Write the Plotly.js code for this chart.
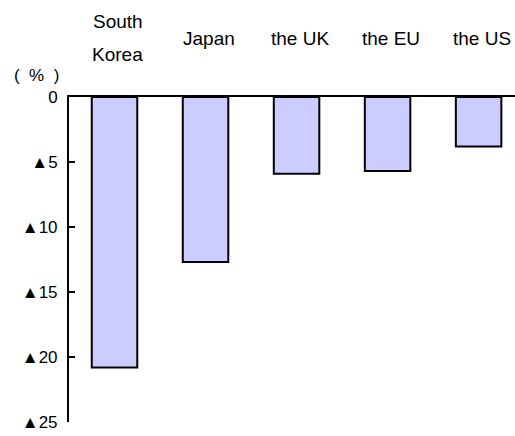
<!DOCTYPE html>
<html><head><meta charset="utf-8">
<script src="https://cdn.plot.ly/plotly-3.0.1.min.js"></script>
<style>html,body{margin:0;padding:0;background:#fff;overflow:hidden}</style>
</head><body><div id="chart" style="width:515px;height:436px"></div>
<script>
const categories = ['South Korea', 'Japan', 'the UK', 'the EU', 'the US'];
const categoryLabels = ['South<br>Korea', 'Japan', 'the UK', 'the EU', 'the US'];
const values = [-20.8, -12.7, -5.9, -5.7, -3.8];
const yTickVals = [0, -5, -10, -15, -20, -25];
const yTickText = ['0', '▲5', '▲10', '▲15', '▲20', '▲25'];

const fam = 'Liberation Sans, Arial, sans-serif';
const catFont = {family: fam, size: 19, color: '#000'};
const tickFont = {family: 'Liberation Sans, Noto Sans CJK JP, sans-serif', size: 17, color: '#000'};

const trace = {
  type: 'bar', x: categories, y: values, width: 0.5,
  marker: {color: '#ccccff', line: {color: '#000', width: 2}},
  hoverinfo: 'skip'
};

const annotations = [];
categories.forEach((c, i) => {
  const lines = categoryLabels[i].split('<br>');
  const lineGap = 33;
  lines.forEach((ln, j) => {
    const off = (j - (lines.length - 1) / 2) * lineGap;
    annotations.push({
      x: c, xref: 'x', y: 1, yref: 'paper', yshift: 59 - off, xshift: 3,
      yanchor: 'middle', xanchor: 'center',
      text: ln, showarrow: false, font: catFont
    });
  });
});
annotations.push({x: 0, xref: 'paper', xshift: -33, y: 1, yref: 'paper', yshift: 22,
  xanchor: 'center', yanchor: 'middle', text: '(&nbsp;&nbsp;%&nbsp;&nbsp;)', showarrow: false,
  font: {family: fam, size: 17, color: '#000'}});

const layout = {
  width: 515, height: 436,
  margin: {l: 69, r: 0, t: 97, b: 14},
  paper_bgcolor: '#fff', plot_bgcolor: '#fff',
  showlegend: false, font: {family: fam, size: 17, color: '#000'},
  xaxis: {type: 'category', range: [-0.5, 4.4], side: 'top', showline: true, linecolor: '#000', linewidth: 2,
    showticklabels: false, ticks: '', showgrid: false, zeroline: false, fixedrange: true},
  yaxis: {range: [-25, 0], tickvals: yTickVals, ticktext: yTickText,
    ticks: 'inside', ticklen: 6, ticklabeloverflow: 'allow',
    tickwidth: 2, tickcolor: '#000', showline: true, linecolor: '#000', linewidth: 2,
    showgrid: false, zeroline: false, tickfont: tickFont, ticklabelstandoff: 6, fixedrange: true},
  annotations: annotations
};
Plotly.newPlot('chart', [trace], layout, {staticPlot: true});
</script></body></html>
